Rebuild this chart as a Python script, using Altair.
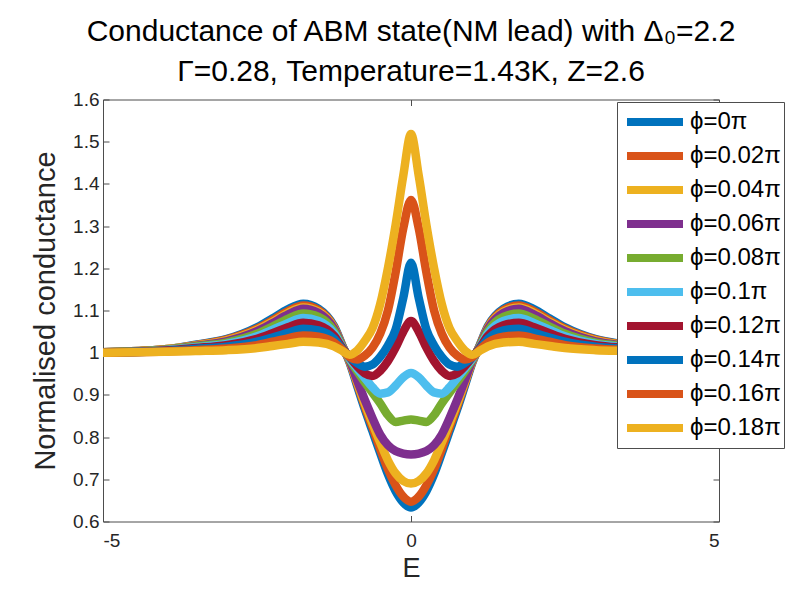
import altair as alt
import pandas as pd

# Energy grid (x values)
E = [-5, -4, -3.5, -3, -2.5, -2.25, -2, -1.75, -1.5, -1.25, -1.1, -1, -0.875, -0.75, -0.625,
     -0.5, -0.375, -0.25, -0.125, 0, 0.125, 0.25, 0.375, 0.5, 0.625, 0.75, 0.875, 1, 1.1,
     1.25, 1.5, 1.75, 2, 2.25, 2.5, 3, 3.5, 4, 5]

# Normalised conductance for each phi
G_000 = [1.001, 1.008, 1.019, 1.032, 1.060, 1.081, 1.103, 1.116, 1.104, 1.063, 1.012, 0.978, 0.922, 0.866, 0.814,
         0.762, 0.712, 0.672, 0.645, 0.633, 0.645, 0.672, 0.712, 0.762, 0.814, 0.866, 0.922, 0.978, 1.012,
         1.063, 1.104, 1.116, 1.103, 1.081, 1.060, 1.032, 1.019, 1.008, 1.001]
G_002 = [1.001, 1.008, 1.018, 1.031, 1.057, 1.077, 1.098, 1.112, 1.101, 1.061, 1.011, 0.980, 0.927, 0.873, 0.823,
         0.772, 0.724, 0.686, 0.659, 0.647, 0.659, 0.686, 0.724, 0.772, 0.823, 0.873, 0.927, 0.980, 1.011,
         1.061, 1.101, 1.112, 1.098, 1.077, 1.057, 1.031, 1.018, 1.008, 1.001]
G_004 = [1.001, 1.008, 1.017, 1.029, 1.054, 1.073, 1.094, 1.107, 1.097, 1.059, 1.011, 0.981, 0.930, 0.879, 0.832,
         0.787, 0.745, 0.714, 0.696, 0.690, 0.696, 0.714, 0.745, 0.787, 0.832, 0.879, 0.930, 0.981, 1.011,
         1.059, 1.097, 1.107, 1.094, 1.073, 1.054, 1.029, 1.017, 1.008, 1.001]
G_006 = [1.001, 1.007, 1.016, 1.027, 1.051, 1.070, 1.090, 1.104, 1.094, 1.057, 1.011, 0.983, 0.935, 0.888, 0.845,
         0.806, 0.781, 0.767, 0.761, 0.759, 0.761, 0.767, 0.781, 0.806, 0.845, 0.888, 0.935, 0.983, 1.011,
         1.057, 1.094, 1.104, 1.090, 1.070, 1.051, 1.027, 1.016, 1.007, 1.001]
G_008 = [1.001, 1.007, 1.015, 1.024, 1.045, 1.062, 1.080, 1.093, 1.085, 1.052, 1.010, 0.985, 0.956, 0.930, 0.905,
         0.880, 0.852, 0.836, 0.839, 0.842, 0.839, 0.836, 0.852, 0.880, 0.905, 0.930, 0.956, 0.985, 1.010,
         1.052, 1.085, 1.093, 1.080, 1.062, 1.045, 1.024, 1.015, 1.007, 1.001]
G_010 = [1.000, 1.006, 1.013, 1.021, 1.039, 1.054, 1.070, 1.082, 1.075, 1.046, 1.009, 0.987, 0.963, 0.940, 0.918,
         0.903, 0.906, 0.922, 0.942, 0.952, 0.942, 0.922, 0.906, 0.903, 0.918, 0.940, 0.963, 0.987, 1.009,
         1.046, 1.075, 1.082, 1.070, 1.054, 1.039, 1.021, 1.013, 1.006, 1.000]
G_012 = [1.000, 1.005, 1.011, 1.018, 1.033, 1.046, 1.060, 1.071, 1.065, 1.040, 1.008, 0.990, 0.968, 0.951, 0.945,
         0.957, 0.980, 1.012, 1.050, 1.075, 1.050, 1.012, 0.980, 0.957, 0.945, 0.951, 0.968, 0.990, 1.008,
         1.040, 1.065, 1.071, 1.060, 1.046, 1.033, 1.018, 1.011, 1.005, 1.000]
G_014 = [1.000, 1.004, 1.009, 1.014, 1.026, 1.036, 1.047, 1.057, 1.053, 1.033, 1.006, 0.990, 0.976, 0.967, 0.972,
         0.990, 1.017, 1.055, 1.130, 1.213, 1.130, 1.055, 1.017, 0.990, 0.972, 0.967, 0.976, 0.990, 1.006,
         1.033, 1.053, 1.057, 1.047, 1.036, 1.026, 1.014, 1.009, 1.004, 1.000]
G_016 = [1.000, 1.003, 1.006, 1.010, 1.018, 1.026, 1.034, 1.041, 1.038, 1.024, 1.005, 0.990, 0.984, 0.993, 1.012,
         1.045, 1.100, 1.190, 1.295, 1.362, 1.295, 1.190, 1.100, 1.045, 1.012, 0.993, 0.984, 0.990, 1.005,
         1.024, 1.038, 1.041, 1.034, 1.026, 1.018, 1.010, 1.006, 1.003, 1.000]
G_018 = [1.000, 1.002, 1.004, 1.006, 1.011, 1.016, 1.021, 1.026, 1.024, 1.015, 1.003, 0.995, 1.005, 1.028, 1.058,
         1.115, 1.200, 1.303, 1.420, 1.518, 1.420, 1.303, 1.200, 1.115, 1.058, 1.028, 1.005, 0.995, 1.003,
         1.015, 1.024, 1.026, 1.021, 1.016, 1.011, 1.006, 1.004, 1.002, 1.000]

series = [G_000, G_002, G_004, G_006, G_008, G_010, G_012, G_014, G_016, G_018]
labels = ["ϕ=0π", "ϕ=0.02π", "ϕ=0.04π", "ϕ=0.06π", "ϕ=0.08π",
          "ϕ=0.1π", "ϕ=0.12π", "ϕ=0.14π", "ϕ=0.16π", "ϕ=0.18π"]
colors = ["#0072BD", "#D95319", "#EDB120", "#7E2F8E", "#77AC30",
          "#4DBEEE", "#A2142F", "#0072BD", "#D95319", "#EDB120"]

x_ticks = [-5, 0, 5]
y_ticks = [0.6, 0.7, 0.8, 0.9, 1.0, 1.1, 1.2, 1.3, 1.4, 1.5, 1.6]

rows = []
for lab, vals in zip(labels, series):
    for e, g in zip(E, vals):
        rows.append({"E": e, "G": g, "phi": lab})
df = pd.DataFrame(rows)

W, H = 616, 422
FONT = "Liberation Sans"
TXT = "#262626"
AX = "#4d4d4d"

x_scale = alt.Scale(domain=[-5, 5], nice=False, zero=False)
y_scale = alt.Scale(domain=[0.6, 1.6], nice=False, zero=False)

base = alt.Chart(df)

lines = base.mark_line(strokeWidth=8.5, interpolate="monotone", clip=True).encode(
    x=alt.X("E:Q", scale=x_scale,
            axis=alt.Axis(values=x_ticks, tickSize=0, domain=False, grid=False,
                          labelPadding=10, labelFontSize=19,
                          labelExpr="datum.value < 0 ? '-' + abs(datum.value) : '' + datum.value",
                          title="E", titleFontSize=27, titleBaseline="alphabetic",
                          titlePadding=26)),
    y=alt.Y("G:Q", scale=y_scale,
            axis=alt.Axis(values=y_ticks, format="~g", tickSize=0, domain=False, grid=False,
                          labelPadding=4, labelFontSize=19, title="Normalised conductance",
                          titleFontSize=29, titlePadding=12)),
    color=alt.Color("phi:N", scale=alt.Scale(domain=labels, range=colors),
                    legend=alt.Legend(title=None, orient="none", legendX=514, legendY=2.5,
                                      symbolType="stroke", symbolSize=3136, symbolStrokeWidth=8,
                                      labelFontSize=24, labelFont=FONT, labelColor="black",
                                      strokeColor=AX, fillColor="white", padding=3,
                                      rowPadding=0, clipHeight=33.8, labelOffset=3,
                                      labelLimit=300, symbolOffset=3)),
)

ticks_a = base.mark_line(opacity=0).encode(
    x=alt.X("E:Q", scale=x_scale,
            axis=alt.Axis(orient="top", offset=-H, values=x_ticks, labels=False, domain=False,
                          grid=False, tickSize=6, tickColor=AX, title=None)),
    y=alt.Y("G:Q", scale=y_scale,
            axis=alt.Axis(orient="right", offset=-W, values=y_ticks, labels=False, domain=False,
                          grid=False, tickSize=6, tickColor=AX, title=None)),
    detail="phi:N",
)

ticks_b = base.mark_line(opacity=0).encode(
    x=alt.X("E:Q", scale=x_scale,
            axis=alt.Axis(orient="bottom", offset=-H, values=x_ticks, labels=False, domain=False,
                          grid=False, tickSize=6, tickColor=AX, title=None)),
    y=alt.Y("G:Q", scale=y_scale,
            axis=alt.Axis(orient="left", offset=-W, values=y_ticks, labels=False, domain=False,
                          grid=False, tickSize=6, tickColor=AX, title=None)),
    detail="phi:N",
)

chart = alt.layer(lines, ticks_a, ticks_b).resolve_axis(
    x="independent", y="independent"
).properties(
    width=W, height=H,
    autosize=alt.AutoSizeParams(type="none"),
    padding={"left": 95, "top": 91.5, "right": 68, "bottom": 62.5},
    title=alt.Title(
        text=["Conductance of ABM state(NM lead) with Δ₀=2.2",
              "Γ=0.28, Temperature=1.43K, Z=2.6"],
        fontSize=30, font=FONT, fontWeight="normal", color="black",
        lineHeight=40, offset=4, anchor="middle", frame="group"),
).configure_view(
    stroke=AX, strokeWidth=1
).configure_axis(
    labelFont=FONT, titleFont=FONT, labelColor=TXT, titleColor=TXT,
    titleFontWeight="normal"
)

chart.save("out.html", embed_options={"renderer": "svg", "actions": False})
